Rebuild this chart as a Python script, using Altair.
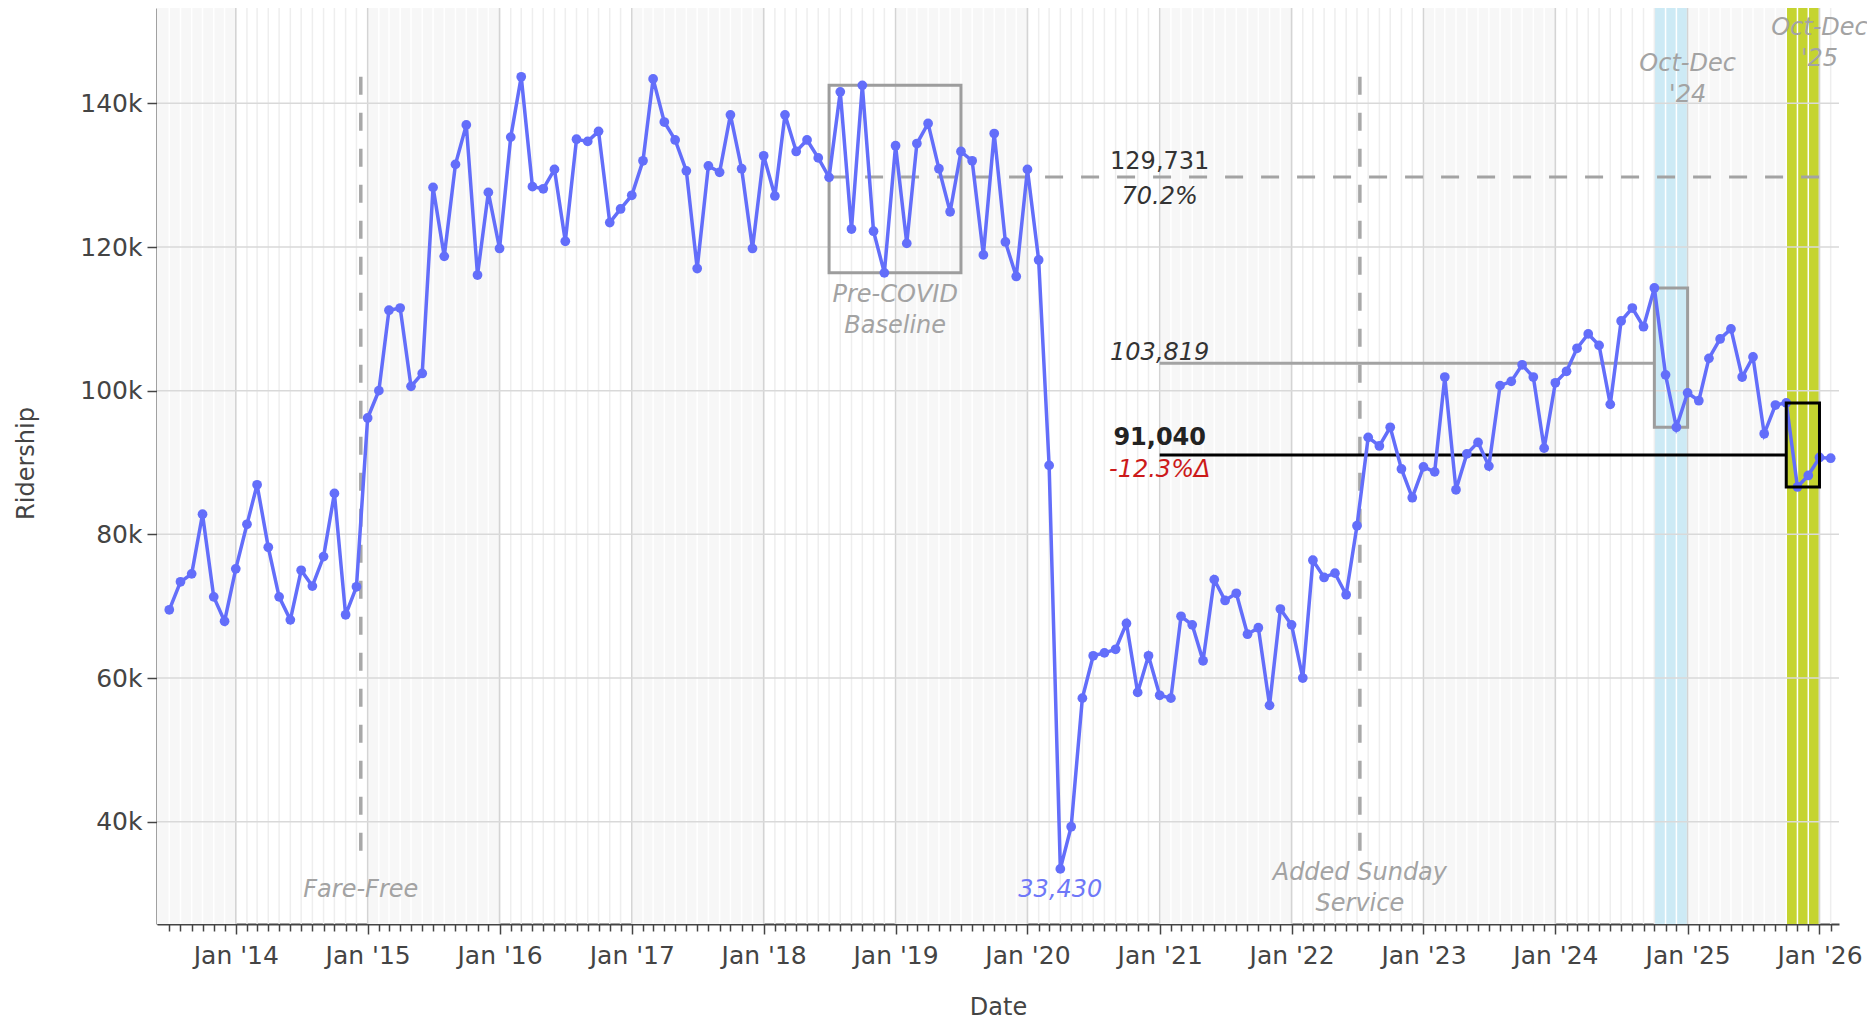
import altair as alt
import pandas as pd

FONT = "DejaVu Sans"
W, H = 1682, 916

# ---------------- data (monthly ridership, Jul 2013 .. Feb 2026) ----------------
y2013 = [69500, 73400, 74500, 82800, 71300, 67900]  # Jul-Dec
y2014 = [75200, 81400, 86900, 78200, 71300, 68100, 75000, 72800, 76900, 85700, 68800, 72700]
y2015 = [96200, 100000, 111200, 111500, 100600, 102400, 128300, 118700, 131500, 137000, 116100, 127600]
y2016 = [119800, 135300, 143700, 128400, 128100, 130800, 120800, 135000, 134700, 136100, 123400, 125300]
y2017 = [127200, 132000, 143400, 137400, 134900, 130600, 117000, 131300, 130400, 138400, 130900, 119800]
y2018 = [132700, 127100, 138400, 133300, 134900, 132400, 129700, 141600, 122500, 142500, 122200, 116400]
y2019 = [134100, 120500, 134400, 137200, 130900, 124900, 133300, 132000, 118900, 135800, 120700, 115900]
y2020 = [130800, 118200, 89600, 33430, 39300, 57200, 63100, 63500, 64000, 67600, 58000, 63100]
y2021 = [57600, 57200, 68600, 67400, 62400, 73700, 70800, 71800, 66100, 67000, 56200, 69600]
y2022 = [67400, 60000, 76400, 74000, 74600, 71600, 81200, 93500, 92300, 94900, 89100, 85100]
y2023 = [89400, 88700, 101900, 86200, 91200, 92800, 89500, 100700, 101300, 103600, 101900, 92000]
y2024 = [101100, 102700, 105900, 107900, 106300, 98100, 109700, 111500, 108900, 114300, 102200, 94900]
y2025 = [99700, 98600, 104500, 107200, 108600, 101900, 104700, 94000, 98000, 98300, 86600, 88200]
y2026 = [90700, 90600]
first_month = "2013-07-01"

baseline_value = 129731
baseline_pct = "70.2%"
ref24_value = 103819
cur25_value = 91040
delta_text = "-12.3%Δ"
min_text = "33,430"

events = ["2014-12-13", "2022-07-09"]
event_labels = ["Fare-Free", "Added Sunday\nService"]
event_extent = [35800, 143700]

year_ticks = list(range(2014, 2027))
y_ticks = [40000, 60000, 80000, 100000, 120000, 140000]
x_domain = ["2013-05-28", "2026-02-24"]
y_domain = [25760, 153270]

# ---------------- build tables ----------------
values = y2013 + y2014 + y2015 + y2016 + y2017 + y2018 + y2019 + y2020 + y2021 + y2022 + y2023 + y2024 + y2025 + y2026
dates = pd.date_range(first_month, periods=len(values), freq="MS")
df = pd.DataFrame({"date": dates.strftime("%Y-%m-%d"), "riders": values})
df["dt"] = dates

def window(a, b):
    m = (df["dt"] >= pd.Timestamp(a)) & (df["dt"] < pd.Timestamp(b))
    return df.loc[m, "riders"]

pre = window("2018-07-01", "2019-07-01")
q24 = window("2024-10-01", "2025-01-01")
q25 = window("2025-10-01", "2026-01-01")

months = pd.date_range(first_month, "2026-02-01", freq="MS")
def month_color(d):
    if (pd.Timestamp("2024-10-01") < d < pd.Timestamp("2025-01-01")) or (pd.Timestamp("2025-10-01") < d < pd.Timestamp("2026-01-01")):
        return "#ffffff"
    return "#ffffff" if d.year % 2 == 1 else "#eeeeee"
mdf = pd.DataFrame({"m": months.strftime("%Y-%m-%d"), "c": [month_color(d) for d in months]})
month_ms = [int(pd.Timestamp(d, tz="UTC").timestamp() * 1000) for d in months]

odd_years = [y for y in range(2013, 2026) if y % 2 == 1]
band_df = pd.DataFrame({"a": [f"{y}-01-01" for y in odd_years], "b": [f"{y+1}-01-01" for y in odd_years]})
year_df = pd.DataFrame({"d": [f"{y}-01-01" for y in year_ticks]})
hgrid_df = pd.DataFrame({"v": y_ticks})

def dt(s):
    y, m, d = [int(p) for p in s.split("-")]
    return alt.DateTime(year=y, month=m, date=d, utc=True)

xscale = alt.Scale(type="utc", domain=[dt(x_domain[0]), dt(x_domain[1])])
yscale = alt.Scale(domain=y_domain, nice=False, zero=False)

xaxis = alt.Axis(
    values=month_ms,
    labelExpr="utcmonth(datum.value) === 0 ? \"Jan '\" + utcFormat(datum.value, '%y') : ''",
    tickSize={"condition": {"test": "utcmonth(datum.value) === 0", "value": 10}, "value": 7},
    grid=False, labelOverlap=False, labelFlush=False,
    labelFont=FONT, labelFontSize=25, labelColor="#444444", labelPadding=9,
    domainColor="#444444", domainWidth=2, tickColor="#444444", tickWidth=1.5,
    title="Date", titleFont=FONT, titleFontSize=24, titleFontWeight="normal", titleColor="#444444",
    titleX=W / 2, titleY=90, titleAlign="center", titleBaseline="alphabetic")
yaxis = alt.Axis(
    values=y_ticks, labelExpr="format(datum.value / 1000, 'd') + 'k'",
    tickSize=10, grid=False, labelFont=FONT, labelFontSize=25, labelColor="#444444", labelPadding=5,
    domainColor="#444444", domainWidth=2, tickColor="#444444", tickWidth=1.5,
    title="Ridership", titleFont=FONT, titleFontSize=24, titleFontWeight="normal", titleColor="#444444",
    titleX=-131, titleY=455, titleAngle=270, titleAlign="center", titleBaseline="middle")

def X(f):
    return alt.X(f"{f}:T", scale=xscale, axis=xaxis)

def Y(f):
    return alt.Y(f"{f}:Q", scale=yscale, axis=yaxis)

def one(**kw):
    return pd.DataFrame({k: [v] for k, v in kw.items()})

layers = []

# alternating year shading
layers.append(alt.Chart(band_df).mark_rect(color="#f7f7f7", clip=True).encode(
    x=X("a"), x2="b:T", y=alt.value(0), y2=alt.value(H)))
# highlight bands
layers.append(alt.Chart(one(a="2024-10-01", b="2025-01-01")).mark_rect(color="#cdeaf5").encode(
    x=X("a"), x2="b:T", y=alt.value(0), y2=alt.value(H)))
layers.append(alt.Chart(one(a="2025-10-01", b="2026-01-01")).mark_rect(color="#c5d430").encode(
    x=X("a"), x2="b:T", y=alt.value(0), y2=alt.value(H)))
# monthly minor grid
layers.append(alt.Chart(mdf).mark_rule(strokeWidth=1.5).encode(
    x=X("m"), color=alt.Color("c:N", scale=None)))
# yearly grid
layers.append(alt.Chart(year_df).mark_rule(color="#d4d4d4", strokeWidth=1.5).encode(x=X("d")))
# horizontal grid
layers.append(alt.Chart(hgrid_df).mark_rule(color="#d9d9d9", strokeWidth=1.5).encode(y=Y("v")))
# event dashed lines
ev_df = pd.DataFrame({"d": events, "y1": [event_extent[1]] * 2, "y2": [event_extent[0]] * 2})
layers.append(alt.Chart(ev_df).mark_rule(color="#a8a8a8", strokeWidth=3.5, strokeDash=[18, 18]).encode(
    x=X("d"), y=Y("y1"), y2="y2:Q"))
# baseline dashed line
layers.append(alt.Chart(one(a="2018-07-01", b="2026-01-01", v=baseline_value)).mark_rule(
    color="#a3a3a3", strokeWidth=3, strokeDash=[18, 18]).encode(x=X("a"), x2="b:T", y=Y("v")))
# reference lines
layers.append(alt.Chart(one(a="2021-01-01", b="2024-10-01", v=ref24_value)).mark_rule(
    color="#a3a3a3", strokeWidth=3).encode(x=X("a"), x2="b:T", y=Y("v")))
layers.append(alt.Chart(one(a="2021-01-01", b="2025-10-01", v=cur25_value)).mark_rule(
    color="#000000", strokeWidth=3).encode(x=X("a"), x2="b:T", y=Y("v")))
# gray boxes
box_df = pd.DataFrame({"a": ["2018-07-01", "2024-10-01"], "b": ["2019-07-01", "2025-01-01"],
                       "lo": [pre.min(), q24.min()], "hi": [pre.max(), q24.max()]})
layers.append(alt.Chart(box_df).mark_rect(fill="transparent", stroke="#9d9d9d", strokeWidth=3).encode(
    x=X("a"), x2="b:T", y=Y("lo"), y2="hi:Q"))

# data line + points
layers.append(alt.Chart(df[["date", "riders"]]).mark_line(color="#636efa", strokeWidth=3.5).encode(
    x=X("date"), y=Y("riders")))
layers.append(alt.Chart(df[["date", "riders"]]).mark_circle(color="#636efa", size=95, opacity=1).encode(
    x=X("date"), y=Y("riders")))

# current-quarter black box
layers.append(alt.Chart(one(a="2025-10-01", b="2026-01-01", lo=q25.min(), hi=q25.max())).mark_rect(
    fill="transparent", stroke="#000000", strokeWidth=3).encode(x=X("a"), x2="b:T", y=Y("lo"), y2="hi:Q"))

# texts
def label(date, yval, text, color, dy=0, style="normal", weight="normal"):
    return alt.Chart(one(d=date, v=yval, t=text)).mark_text(
        font=FONT, fontSize=24, color=color, fontStyle=style, fontWeight=weight,
        align="center", baseline="alphabetic", dy=dy, lineBreak="\n", lineHeight=31).encode(
        x=X("d"), y=Y("v"), text="t:N")

GRAY = "#a3a3a3"
layers.append(label(events[0], 29520, event_labels[0], GRAY, style="italic"))
layers.append(label(events[1], 31880, event_labels[1], GRAY, style="italic"))
layers.append(label("2020-04-01", df["riders"].min(), min_text, "#6f78f8", dy=28, style="italic"))
layers.append(label("2018-12-31", pre.min(), "Pre-COVID\nBaseline", GRAY, dy=29, style="italic"))
layers.append(label("2025-01-01", 144500, "Oct-Dec\n'24", GRAY, style="italic"))
layers.append(label("2026-01-01", 149500, "Oct-Dec\n'25", GRAY, style="italic"))
layers.append(label("2021-01-01", baseline_value, f"{baseline_value:,}", "#333333", dy=-8))
layers.append(label("2021-01-01", baseline_value, baseline_pct, "#333333", dy=27, style="italic"))
layers.append(label("2021-01-01", ref24_value, f"{ref24_value:,}", "#333333", dy=-3, style="italic"))
layers.append(label("2021-01-01", cur25_value, f"{cur25_value:,}", "#222222", dy=-10, weight="bold"))
layers.append(label("2021-01-01", cur25_value, delta_text, "#cc1a1a", dy=22, style="italic"))

chart = alt.layer(*layers).properties(
    width=W, height=H,
    autosize=alt.AutoSizeParams(type="none"),
    padding={"left": 149, "top": 0, "right": 28, "bottom": 97},
).configure_view(strokeWidth=0)

chart.save("out.html", embed_options={"renderer": "svg", "actions": False})
